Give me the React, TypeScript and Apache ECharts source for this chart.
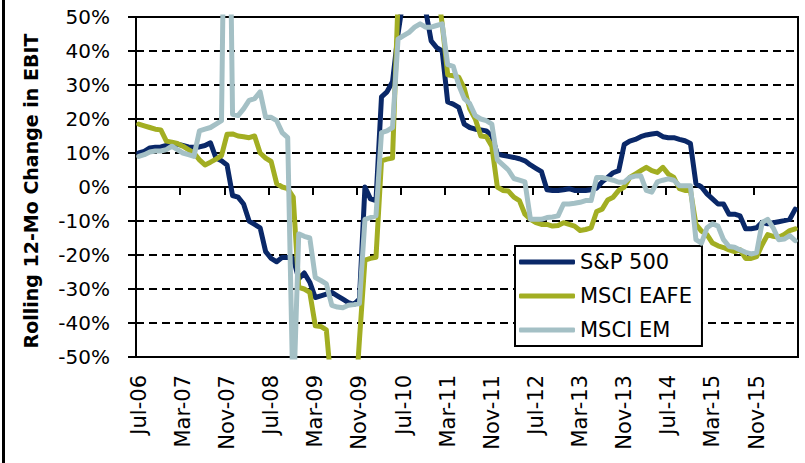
import { useEffect, useRef } from 'react';
import * as echarts from 'echarts';

const MONTH_NAMES = ['Jan', 'Feb', 'Mar', 'Apr', 'May', 'Jun', 'Jul', 'Aug', 'Sep', 'Oct', 'Nov', 'Dec'];
const START_YEAR = 2006;
const START_MONTH = 6; // July
const MONTH_COUNT = 120;

const categories: string[] = [];
for (let k = 0; k < MONTH_COUNT; k++) {
  const m = (START_MONTH + k) % 12;
  const y = START_YEAR + Math.floor((START_MONTH + k) / 12);
  categories.push(`${MONTH_NAMES[m]}-${String(y % 100).padStart(2, '0')}`);
}

const seriesNames = ['S&P 500', 'MSCI EAFE', 'MSCI EM'];

const sp500 = [
  10, 10.5, 11.5, 11.7, 11.8, 12.2, 12, 12.6, 12.2, 11.8,
  11.7, 11.8, 12.2, 13, 8.5, 7.7, 6.5, -2.5, -3, -5,
  -10, -11, -12, -19, -21, -22, -20.7, -20.7, -21, -27,
  -25.3, -28, -32.5, -32, -31.5, -31, -32, -33, -34, -34.5,
  -33, 0, -3.5, -4, 26.5, 28, 31, 45, 56, 58,
  60, 58, 52, 43, 41, 40, 25, 24.4, 23.4, 18.5,
  17.5, 17, 16.8, 16.5, 15, 9.7, 9.3, 9, 8.7, 8.3,
  7.7, 6.5, 5.5, 4.5, -0.8, -1, -1, -0.8, -0.5, -1,
  -1, -1, -0.8, -0.3, 1.5, 2.8, 4.2, 4.8, 12.5, 13.5,
  14, 14.8, 15.3, 15.6, 15.8, 14.8, 14.5, 14.5, 14, 13.6,
  12.8, 1, 0, -2, -3.5, -5, -5, -8, -8, -8.5,
  -12.3, -12.3, -12, -10.4, -10.8, -10.5, -10.2, -9.9, -9.5, -6.5,
];

const msciEafe = [
  18.5, 18, 17.5, 17, 16.8, 13.5, 13.2, 12.8, 12, 11,
  10, 8, 6.5, 7.3, 8.2, 9.2, 15.5, 15.6, 15, 14.8,
  14.5, 15, 10, 8.5, 7.5, 1, 0, -0.5, -3, -29.5,
  -30, -31, -40.8, -41, -42, -60, -75, -75, -75, -70,
  -45, -21.5, -21, -20.7, 7.7, 8.2, 8.5, 55, 65, 70,
  70, 70, 68, 65, 60, 48, 33, 32.7, 32.3, 29,
  23, 20, 15, 14.8, 12, 0, -1, -1.2, -3, -4,
  -8, -9.5, -10.5, -11, -11, -11.5, -11.3, -10.5, -11, -11.5,
  -12.8, -12.5, -12, -7.2, -6.5, -3.8, -3, -1, 0, 2.8,
  3.8, 4.8, 5.8, 4.8, 4.3, 5.8, 3.8, 2.8, -0.5, -1,
  -1, -11, -13, -14, -16.5, -17.3, -17.8, -18.5, -19, -18.5,
  -21, -21, -20.5, -17, -14, -14.5, -14.8, -14, -12.8, -12.3,
];

const msciEm = [
  9, 9.5, 10.3, 10.6, 10.6, 11, 12, 11, 10, 9.5,
  9, 16.5, 17, 17.5, 18.5, 19.5, 150, 21.4, 21, 23,
  25.5, 26, 28, 20.5, 20.5, 19.5, 16, 14.5, -65, -13.8,
  -14.5, -15, -26.6, -27.5, -28.5, -34.8, -35.3, -35.5, -34.8, -34.6,
  -34.3, -9.5, -9, -8.5, 16, 16.5, 17.5, 43.5, 44.5, 45.5,
  47, 48, 47, 47, 47.5, 48, 36, 35.5, 30, 26,
  24.5, 21, 20, 19.5, 18.5, 8, 6.5, 5, 2.5, 2,
  1.5, -9.5, -9.5, -9.5, -9, -8.8, -8.5, -5, -5, -4.8,
  -4.5, -4, -4, 2.8, 2.8, 2.4, 2, 1.4, 1.4, 2.8,
  3.2, 3.3, -1, -1.5, 1.5, 2, 2.4, 2, 0.4, 0.4,
  0.4, -15.5, -16.5, -12, -10.8, -11.5, -15.5, -17.5, -17.7, -18.5,
  -19.2, -19.7, -19.3, -10.5, -9.5, -12, -15.5, -15.3, -14.3, -15.8,
];

const yMin = -50;
const yMax = 50;
const yStep = 10;
const yTitle = 'Rolling 12-Mo Change in EBIT';

const COLORS = ['#0a2868', '#a2ae22', '#a4c0c5'];
const FONT = 'DejaVu Sans';

export default function App() {
  const ref = useRef<HTMLDivElement>(null);

  useEffect(() => {
    if (!ref.current) return;
    const chart = echarts.init(ref.current, undefined, { renderer: 'svg' });
    const seriesData = [sp500, msciEafe, msciEm];

    chart.setOption({
      animation: false,
      backgroundColor: '#ffffff',
      grid: {
        left: 136,
        top: 17,
        width: 662,
        height: 340,
        show: true,
        borderColor: '#000',
        borderWidth: 2,
        backgroundColor: 'transparent',
      },
      xAxis: [
        {
          type: 'category',
          data: categories,
          boundaryGap: true,
          position: 'bottom',
          axisLine: { show: true, onZero: false, lineStyle: { color: '#000', width: 2 } },
          axisTick: { show: false },
          axisLabel: {
            interval: 7,
            rotate: 90,
            margin: 18,
            color: '#000',
            fontFamily: FONT,
            fontSize: 21,
          },
          splitLine: { show: false },
        },
        {
          type: 'category',
          data: categories,
          boundaryGap: true,
          position: 'bottom',
          axisLine: { show: true, onZero: true, lineStyle: { color: '#000', width: 2 } },
          axisTick: { show: true, interval: 7, length: 8, inside: false, lineStyle: { color: '#000', width: 2 } },
          axisLabel: { show: false },
          splitLine: { show: false },
        },
      ],
      yAxis: {
        type: 'value',
        min: yMin,
        max: yMax,
        interval: yStep,
        axisLine: { show: true, lineStyle: { color: '#000', width: 2 } },
        axisTick: { show: true, length: 8, lineStyle: { color: '#000', width: 2 } },
        axisLabel: {
          formatter: '{value}%',
          color: '#000',
          fontFamily: FONT,
          fontSize: 20,
          margin: 26,
        },
        splitLine: { show: true, lineStyle: { color: '#000', width: 2, type: [8, 5] } },
      },
      legend: {
        orient: 'vertical',
        left: 515,
        top: 246,
        padding: [4, 10, 4, 4],
        borderColor: '#000',
        borderWidth: 2,
        backgroundColor: '#fff',
        itemWidth: 56,
        itemHeight: 5,
        itemGap: 10,
        icon: 'roundRect',
        textStyle: { fontFamily: FONT, fontSize: 21, color: '#000', lineHeight: 24 },
        data: seriesNames,
      },
      series: seriesNames.map((name, k) => ({
        name,
        type: 'line',
        xAxisIndex: 0,
        yAxisIndex: 0,
        data: seriesData[k],
        color: COLORS[k],
        symbol: 'none',
        showSymbol: false,
        clip: true,
        lineStyle: { width: 5, color: COLORS[k], cap: 'round', join: 'round' },
        z: 3 + k,
      })),
      graphic: [
        {
          type: 'rect',
          shape: { x: 2, y: 0, width: 3, height: 463 },
          style: { fill: '#000' },
        },
        {
          type: 'text',
          x: 31,
          y: 191,
          rotation: Math.PI / 2,
          style: {
            text: yTitle,
            fill: '#000',
            font: `bold 19px "${FONT}"`,
            textAlign: 'center',
            textVerticalAlign: 'middle',
            align: 'center',
            verticalAlign: 'middle',
          },
        },
      ],
    });

    return () => chart.dispose();
  }, []);

  return (
    <div
      ref={ref}
      style={{ position: 'fixed', left: 0, top: 0, width: 805, height: 463, background: '#fff' }}
    />
  );
}
